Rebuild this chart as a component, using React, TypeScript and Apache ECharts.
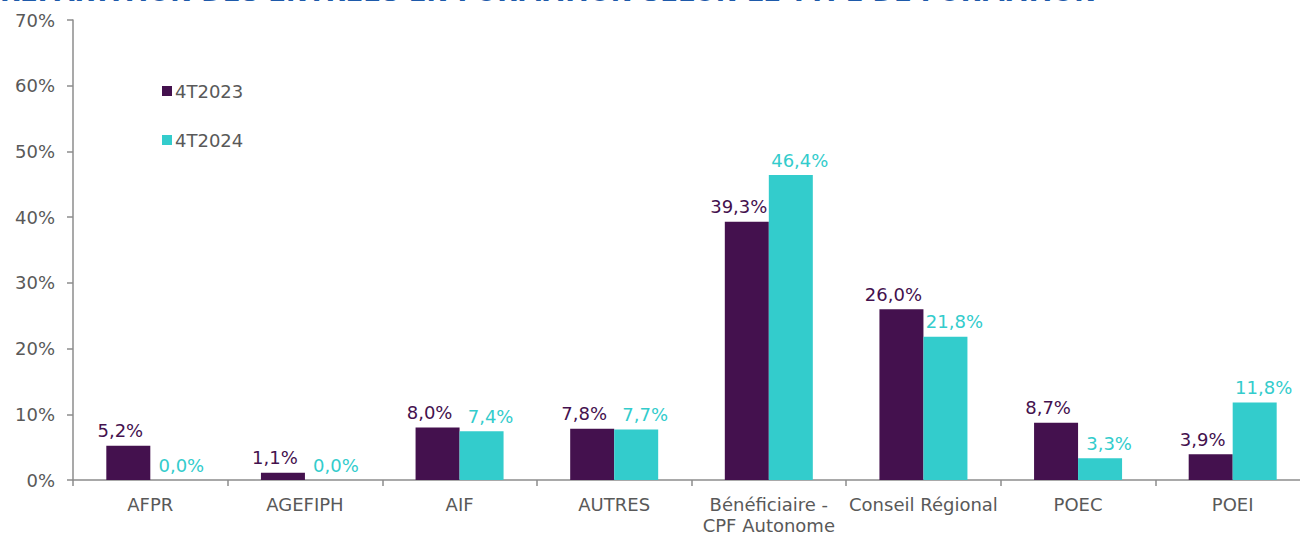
import React, { useEffect, useRef } from "react";
import * as echarts from "echarts";

const categories = [
  "AFPR",
  "AGEFIPH",
  "AIF",
  "AUTRES",
  "Bénéficiaire -\nCPF Autonome",
  "Conseil Régional",
  "POEC",
  "POEI",
];
const series2023 = [5.2, 1.1, 8.0, 7.8, 39.3, 26.0, 8.7, 3.9];
const series2024 = [0.0, 0.0, 7.4, 7.7, 46.4, 21.8, 3.3, 11.8];
const seriesNames = ["4T2023", "4T2024"];
const yTicks = [0, 10, 20, 30, 40, 50, 60, 70];
const titleText = "RÉPARTITION DES ENTRÉES EN FORMATION SELON LE TYPE DE FORMATION";

const PURPLE = "#44114E";
const CYAN = "#33CCCC";
const GRAY_TEXT = "#595959";
const AXIS = "#8C8C8C";
const FONT = '"DejaVu Sans", Verdana, sans-serif';

const fmt = (v: number) => v.toFixed(1).replace(".", ",") + "%";

export default function App() {
  const ref = useRef<HTMLDivElement>(null);
  useEffect(() => {
    if (!ref.current) return;
    const chart = echarts.init(ref.current, null, { renderer: "svg" });
    const mkSeries = (name: string, data: number[], color: string, dx: number) => ({
      name,
      type: "bar",
      data,
      barWidth: 44,
      barGap: "0%",
      itemStyle: { color },
      label: {
        show: true,
        position: "top",
        distance: 6,
        offset: [dx, 0],
        color,
        fontSize: 18,
        fontFamily: FONT,
        formatter: (p: any) => fmt(p.value),
      },
    });
    chart.setOption({
      animation: false,
      textStyle: { fontFamily: FONT },
      graphic: [
        {
          type: "text",
          left: 0,
          top: -21,
          style: {
            text: titleText,
            font: `bold 26px ${FONT}`,
            fill: "#1E5AAA",
          },
        },
      ],
      legend: {
        orient: "vertical",
        left: 157,
        top: 77,
        itemWidth: 10,
        itemHeight: 10,
        itemGap: 31,
        icon: "rect",
        textStyle: { color: GRAY_TEXT, fontSize: 18, fontFamily: FONT, padding: [0, 0, 0, -2] },
        data: seriesNames,
      },
      grid: { left: 73, right: 0, top: 20, bottom: 50, containLabel: false },
      xAxis: {
        type: "category",
        data: categories,
        axisLine: { lineStyle: { color: AXIS, width: 1.5 } },
        axisTick: { show: true, length: 6, lineStyle: { color: AXIS, width: 1.5 } },
        axisLabel: {
          color: GRAY_TEXT,
          fontSize: 18,
          fontFamily: FONT,
          margin: 14,
          lineHeight: 21,
          interval: 0,
        },
      },
      yAxis: {
        type: "value",
        min: yTicks[0],
        max: yTicks[yTicks.length - 1],
        interval: 10,
        axisLine: { show: true, lineStyle: { color: AXIS, width: 1.5 } },
        axisTick: { show: true, length: 6, lineStyle: { color: AXIS, width: 1.5 } },
        splitLine: { show: false },
        axisLabel: {
          color: GRAY_TEXT,
          fontSize: 18,
          fontFamily: FONT,
          margin: 18,
          formatter: (v: number) => v + "%",
        },
      },
      series: [
        mkSeries(seriesNames[0], series2023, PURPLE, -8),
        mkSeries(seriesNames[1], series2024, CYAN, 9),
      ],
    });
    return () => chart.dispose();
  }, []);
  return (
    <div style={{ position: "fixed", left: 0, top: 0, width: 1300, height: 536, overflow: "hidden", background: "#fff" }}>
      <div ref={ref} style={{ width: 1310, height: 536 }} />
    </div>
  );
}
